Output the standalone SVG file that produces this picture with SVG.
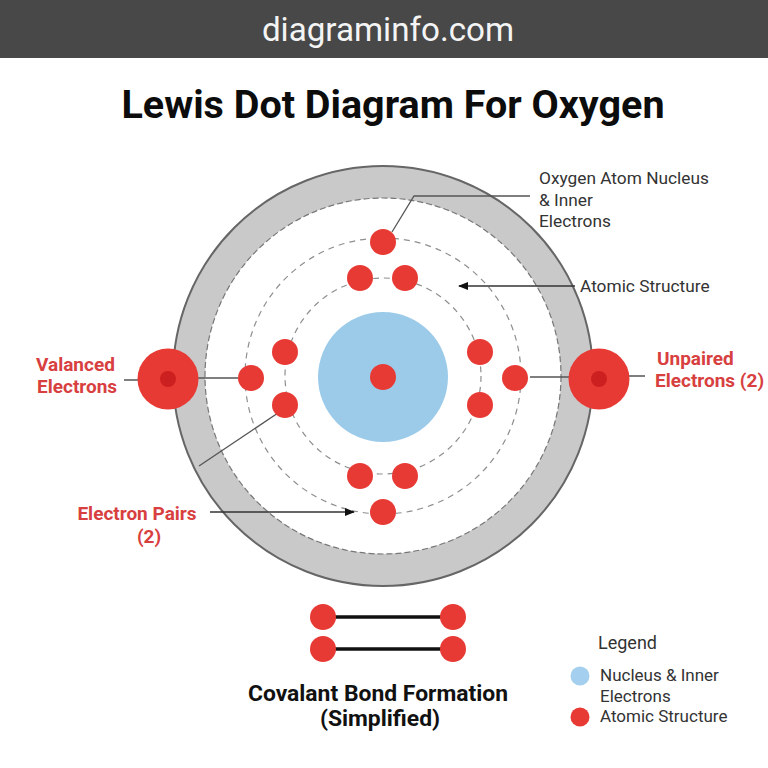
<svg xmlns="http://www.w3.org/2000/svg" width="768" height="768" viewBox="0 0 768 768">
<defs>
<marker id="arrow" viewBox="0 0 10 8" refX="9" refY="4" markerWidth="10" markerHeight="8" markerUnits="userSpaceOnUse" orient="auto"><path d="M0 0L10 4L0 8z" fill="#111"/></marker>
</defs>
<style>
text{font-family:Roboto,"Liberation Sans",sans-serif}
.e{fill:#e83a35}
.big{fill:#e83a35}
.core{fill:#cc1f1f}
.orbit{fill:none;stroke:#8f8f8f;stroke-width:1.2;stroke-dasharray:6 5}
.lead{fill:none;stroke:#555;stroke-width:1.3}
.lbl{font-size:17.3px;fill:#333}
.leg{font-size:17px;fill:#333}
.red{font-size:19px;font-weight:700;fill:#d8403f}
.bond{stroke:#111;stroke-width:3.5}
.h{font-size:22.9px;font-weight:700;fill:#111}
</style>
<rect width="768" height="768" fill="#fff"/>
<g id="banner"><rect width="768" height="58" fill="#484848"/><text x="388" y="41" text-anchor="middle" font-size="33.200" fill="#f4f4f4">diagraminfo.com</text></g>
<text x="393" y="118" text-anchor="middle" font-size="39.500" font-weight="700" fill="#0c0c0c">Lewis Dot Diagram For Oxygen</text>
<g id="atom">
<circle id="shell" cx="383" cy="376" r="194" fill="none" stroke="#c9c9c9" stroke-width="32"/>
<circle cx="383" cy="376" r="210" fill="none" stroke="#666" stroke-width="2"/>
<circle cx="383" cy="376" r="178" fill="none" stroke="#777" stroke-width="1.2" stroke-dasharray="6 3"/>
<circle class="orbit" cx="383" cy="376" r="138"/>
<circle class="orbit" cx="383" cy="376" r="98"/>
<circle id="nucleus" cx="383" cy="377" r="65" fill="#9ccbea"/>
</g>
<g id="connectors">
<path class="lead" d="M530 196H414L392 232"/>
<path class="lead" d="M575 286H459" marker-end="url(#arrow)" style="stroke:#333"/>
<path class="lead" d="M124 380H138M198 378H240"/>
<path class="lead" d="M530 377H570M610 376H645"/>
<path class="lead" d="M199 466L278 413"/>
<path class="lead" d="M210 512H354" marker-end="url(#arrow)" style="stroke:#333"/>
<path class="bond" d="M323 617H453M323 649H453"/>
</g>
<g id="electrons">
<circle class="e" cx="383" cy="242" r="13"/>
<circle class="e" cx="360" cy="278" r="13"/>
<circle class="e" cx="405" cy="278" r="13"/>
<circle class="e" cx="285" cy="352" r="13"/>
<circle class="e" cx="251" cy="378" r="13"/>
<circle class="e" cx="285" cy="405" r="13"/>
<circle class="e" cx="480" cy="352" r="13"/>
<circle class="e" cx="515" cy="378" r="13"/>
<circle class="e" cx="480" cy="405" r="13"/>
<circle class="e" cx="360" cy="476" r="13"/>
<circle class="e" cx="405" cy="476" r="13"/>
<circle class="e" cx="383" cy="512" r="13"/>
<circle class="e" cx="383" cy="377" r="13"/>
</g>
<g id="valence-left"><circle class="big" cx="168" cy="379" r="30.500"/><circle class="core" cx="168" cy="379" r="8"/></g>
<g id="valence-right"><circle class="big" cx="599" cy="379" r="30.500"/><circle class="core" cx="599" cy="379" r="8"/></g>
<g id="label-nucleus"><text class="lbl" x="539" y="184">Oxygen Atom Nucleus</text><text class="lbl" x="539" y="206">&amp; Inner</text><text class="lbl" x="539" y="227">Electrons</text></g>
<g id="label-atomic"><text class="lbl" x="580" y="292">Atomic Structure</text></g>
<g id="label-valanced"><text class="red" x="36" y="371">Valanced</text><text class="red" x="37" y="393">Electrons</text></g>
<g id="label-unpaired"><text class="red" x="657" y="365">Unpaired</text><text class="red" x="655" y="387">Electrons (2)</text></g>
<g id="label-pairs"><text class="red" x="137" y="520" text-anchor="middle">Electron Pairs</text><text class="red" x="149" y="543" text-anchor="middle">(2)</text></g>
<g id="bond">
<circle class="e" cx="323" cy="617" r="13"/><circle class="e" cx="453" cy="617" r="13"/>
<circle class="e" cx="323" cy="649" r="13"/><circle class="e" cx="453" cy="649" r="13"/>
<text class="h" x="378" y="701" text-anchor="middle">Covalant Bond Formation</text>
<text class="h" x="380" y="726" text-anchor="middle">(Simplified)</text>
</g>
<g id="legend">
<text class="leg" x="598" y="649" style="font-size:18px">Legend</text>
<circle cx="580" cy="676" r="9.500" fill="#a4cfee"/>
<text class="leg" x="600" y="681">Nucleus &amp; Inner</text>
<text class="leg" x="600" y="702">Electrons</text>
<circle class="e" cx="580" cy="717" r="9.500"/>
<text class="leg" x="600" y="722">Atomic Structure</text>
</g>
</svg>
